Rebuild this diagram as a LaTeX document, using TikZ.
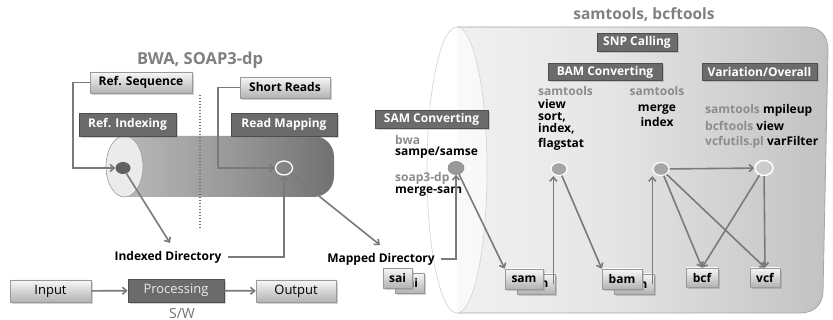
\documentclass[tikz,border=0pt]{standalone}
\usepackage{fontspec}
\setmainfont{Open Sans}
\usetikzlibrary{arrows.meta,shadows,calc,shapes.geometric}
\definecolor{boxdark}{HTML}{6B6B6B}
\definecolor{boxdarkline}{HTML}{4E4E4E}
\definecolor{lgray}{HTML}{8C8C8C}
\definecolor{arrgray}{HTML}{7A7A7A}
\pgfdeclarehorizontalshading{rcylshade}{100bp}{color(0bp)=(white); color(45bp)=(black!10); color(75bp)=(black!24); color(90bp)=(black!38); color(100bp)=(black!60)}
\pgfdeclarehorizontalshading{lcylshade}{100bp}{color(0bp)=(black!16); color(50bp)=(black!40); color(85bp)=(black!62); color(100bp)=(black!72)}
\begin{document}
\begin{tikzpicture}[x=1pt,y=-1pt,
  shd/.style={drop shadow={opacity=0.35,shadow xshift=2pt,shadow yshift=-2pt}},
  darkbox/.style={shd,draw=boxdarkline,line width=0.8pt,fill=boxdark,text=white,
    font=\bfseries\fontsize{12}{14}\selectfont,inner sep=0pt},
  lightbox/.style={shd,draw=black!40,line width=0.6pt,top color=black!3,bottom color=black!30,
    font=\bfseries\fontsize{12}{14}\selectfont,inner sep=0pt},
  legbox/.style={shd,draw=black!40,line width=0.6pt,top color=black!3,bottom color=black!30,
    font=\fontsize{13}{15}\selectfont,inner sep=0pt},
  legdark/.style={shd,draw=boxdarkline,line width=0.8pt,fill=boxdark,text=black!8,
    font=\fontsize{13}{15}\selectfont,inner sep=0pt},
  lbl/.style={font=\bfseries\fontsize{12}{14}\selectfont,inner sep=0pt},
  glbl/.style={lbl,text=lgray},
  ttl/.style={font=\bfseries\fontsize{15.5}{18}\selectfont,text=black!50,inner sep=0pt},
  arr/.style={draw=arrgray,line width=1.6pt,-{Straight Barb[length=4pt,width=7pt]}},
  dotsep/.style={draw=black!55,line width=2pt,dash pattern=on 1.5pt off 1.5pt},
  dotnode/.style={ellipse,inner sep=0pt,minimum width=16pt,minimum height=13pt}
]
\useasboundingbox (0,0) rectangle (833,320);
\fill[white] (0,0) rectangle (833,320);

% ---------- left cylinder ----------
\shade[shading=lcylshade]
  (124,136) -- (313,136) .. controls (325,136) and (334,145) .. (334,157)
  -- (334,176) .. controls (334,188) and (325,197) .. (313,197) -- (124,197) -- cycle;
\filldraw[fill=black!8,draw=black!40,line width=0.6pt] (124.5,166.5) ellipse [x radius=18.5,y radius=30.5];

% ---------- right cylinder ----------
\shade[shading=rcylshade]
  (457,27) -- (805,27) .. controls (820,27) and (828,35) .. (828,50)
  -- (823,292) .. controls (822,305) and (814,313) .. (800,313) -- (457,313) -- cycle;
\draw[black!35,line width=0.8pt] (457,27) -- (805,27) .. controls (820,27) and (828,35) .. (828,50)
  -- (823,292) .. controls (822,305) and (814,313) .. (800,313) -- (457,313);
\filldraw[fill=white,fill opacity=0.6,draw=black!18,line width=0.6pt] (457,170) ellipse [x radius=30,y radius=143];

% ---------- titles ----------
\node[ttl,font=\bfseries\fontsize{16.5}{19}\selectfont] (t1) at (200,60) {BWA, SOAP3-dp};
\node[ttl] (t2) at (644,15) {samtools, bcftools};

% ---------- left part ----------
\draw[dotsep] (200,95) -- (200,229);
\node[lightbox,minimum width=102pt,minimum height=21pt] (refseq) at (141,82.5) {Ref. Sequence};
\node[lightbox,minimum width=90pt,minimum height=21pt] (shortr) at (285,87.5) {Short Reads};
\node[darkbox,minimum width=97pt,minimum height=23pt] (refidx) at (127.5,124.5) {Ref. Indexing};
\node[darkbox,minimum width=106pt,minimum height=23pt] (readmap) at (284,124.5) {Read Mapping};

\node[dotnode,fill=black!62,minimum width=15pt,minimum height=12pt] (idot) at (123,168) {};
\node[dotnode,draw=white,line width=1.3pt,minimum width=17pt,minimum height=14pt] (mdot) at (284,168) {};

\node[lbl] (idxdir) at (168,257) {Indexed Directory};
\node[lbl] (mapdir) at (381,259) {Mapped Directory};
\coordinate (idxtip) at (170,243);
\coordinate (maptip) at (380,245);

\draw[arr] (refseq.west) -- ++(-17,0) |- (idot.west);
\draw[arr] (shortr.west) -- ++(-22,0) |- (mdot.west);
\draw[arr] (idot) -- (idxtip);
\draw[arr] ([xshift=6pt]idxdir.east) -| (mdot.south);
\draw[arr] (mdot) -- (maptip);

% ---------- right part ----------
\node[darkbox,minimum width=80pt,minimum height=18pt] (snp) at (637,42.5) {SNP Calling};
\node[darkbox,minimum width=114pt,minimum height=17pt] (bamconv) at (605,72) {BAM Converting};
\node[darkbox,minimum width=115pt,minimum height=17pt] (varov) at (759.5,72) {Variation/Overall};
\node[darkbox,minimum width=113pt,minimum height=18pt] (samconv) at (431.5,119) {SAM Converting};

\node[glbl,anchor=west] (bwa) at (395,140) {bwa};
\node[lbl,anchor=west] (sampe) at (395,153) {sampe/samse};
\node[glbl,anchor=west] (soap) at (395,178) {soap3-dp};
\node[lbl,anchor=west] (mergesam) at (395,192) {merge-sam};

\node[lbl,anchor=north west,align=left,font=\bfseries\fontsize{12}{12}\selectfont] (col1) at (538,86)
  {{\color{lgray}samtools}\\[1pt]view\\sort,\\index,\\[3pt]flagstat};

\node[lbl,align=center,anchor=north,font=\bfseries\fontsize{12}{15}\selectfont] (col2) at (657,86)
  {{\color{lgray}samtools}\\[1pt]merge\\index};

\node[lbl,anchor=west] (mpile) at (705,110) {{\color{lgray}samtools} mpileup};
\node[lbl,anchor=west] (bview) at (705,126) {{\color{lgray}bcftools} view};
\node[lbl,anchor=west] (varf) at (705,142) {{\color{lgray}vcfutils.pl} varFilter};

% file boxes
\node[lightbox,minimum width=29pt,minimum height=20pt] (saiB) at (409.5,283) {sai};
\node[lightbox,minimum width=29pt,minimum height=20pt] (saiF) at (397.5,278) {sai};
\node[lightbox,minimum width=38pt,minimum height=20pt] (samB) at (536,284) {sam};
\node[lightbox,minimum width=38pt,minimum height=20pt] (samF) at (524,279) {sam};
\node[lightbox,minimum width=40pt,minimum height=20pt] (bamB) at (634,284) {bam};
\node[lightbox,minimum width=40pt,minimum height=20pt] (bamF) at (622,279) {bam};
\node[lightbox,minimum width=32pt,minimum height=19pt] (bcf) at (702,277.5) {bcf};
\node[lightbox,minimum width=30pt,minimum height=19pt] (vcf) at (765,277.5) {vcf};

% dots
\node[dotnode,fill=black!40,draw=black!45,line width=0.6pt] (d1) at (456,168) {};
\node[dotnode,fill=black!35,draw=white,line width=1.2pt] (d2) at (559,169) {};
\node[dotnode,fill=black!35,draw=white,line width=1.2pt] (d3) at (661,169) {};
\node[dotnode,draw=white,line width=1.5pt,minimum width=18pt,minimum height=15pt] (d4) at (764,168) {};

\draw[arr] ([xshift=6pt]mapdir.east) -| (d1.south);
\draw[arr] (d1) -- (samF.north west);
\draw[arr] ([xshift=-2pt]samB.east) -- ([xshift=-2pt]samB.east |- d2.south);
\draw[arr] (d2) -- (bamF.north west);
\draw[arr] ([xshift=-2pt]bamB.east) -- ([xshift=-2pt]bamB.east |- d3.south);
\draw[arr] (d3) -- (d4);
\draw[arr] (d3) -- (bcf.north);
\draw[arr] (d3) -- (vcf.north);
\draw[arr] (d4) -- (bcf.north);
\draw[arr] (d4) -- (vcf.north);

% ---------- legend ----------
\node[legbox,minimum width=81pt,minimum height=22pt] (inp) at (50.5,291) {Input};
\node[legdark,minimum width=96pt,minimum height=23pt] (proc) at (176,290.5) {Processing};
\node[legbox,minimum width=80pt,minimum height=22pt] (outp) at (296,291) {Output};
\node[font=\fontsize{14}{16}\selectfont,text=black!55,inner sep=0pt] (sw) at (182,313) {S/W};
\draw[arr] (inp) -- (proc);
\draw[arr] (proc) -- (outp);
\end{tikzpicture}
\end{document}
